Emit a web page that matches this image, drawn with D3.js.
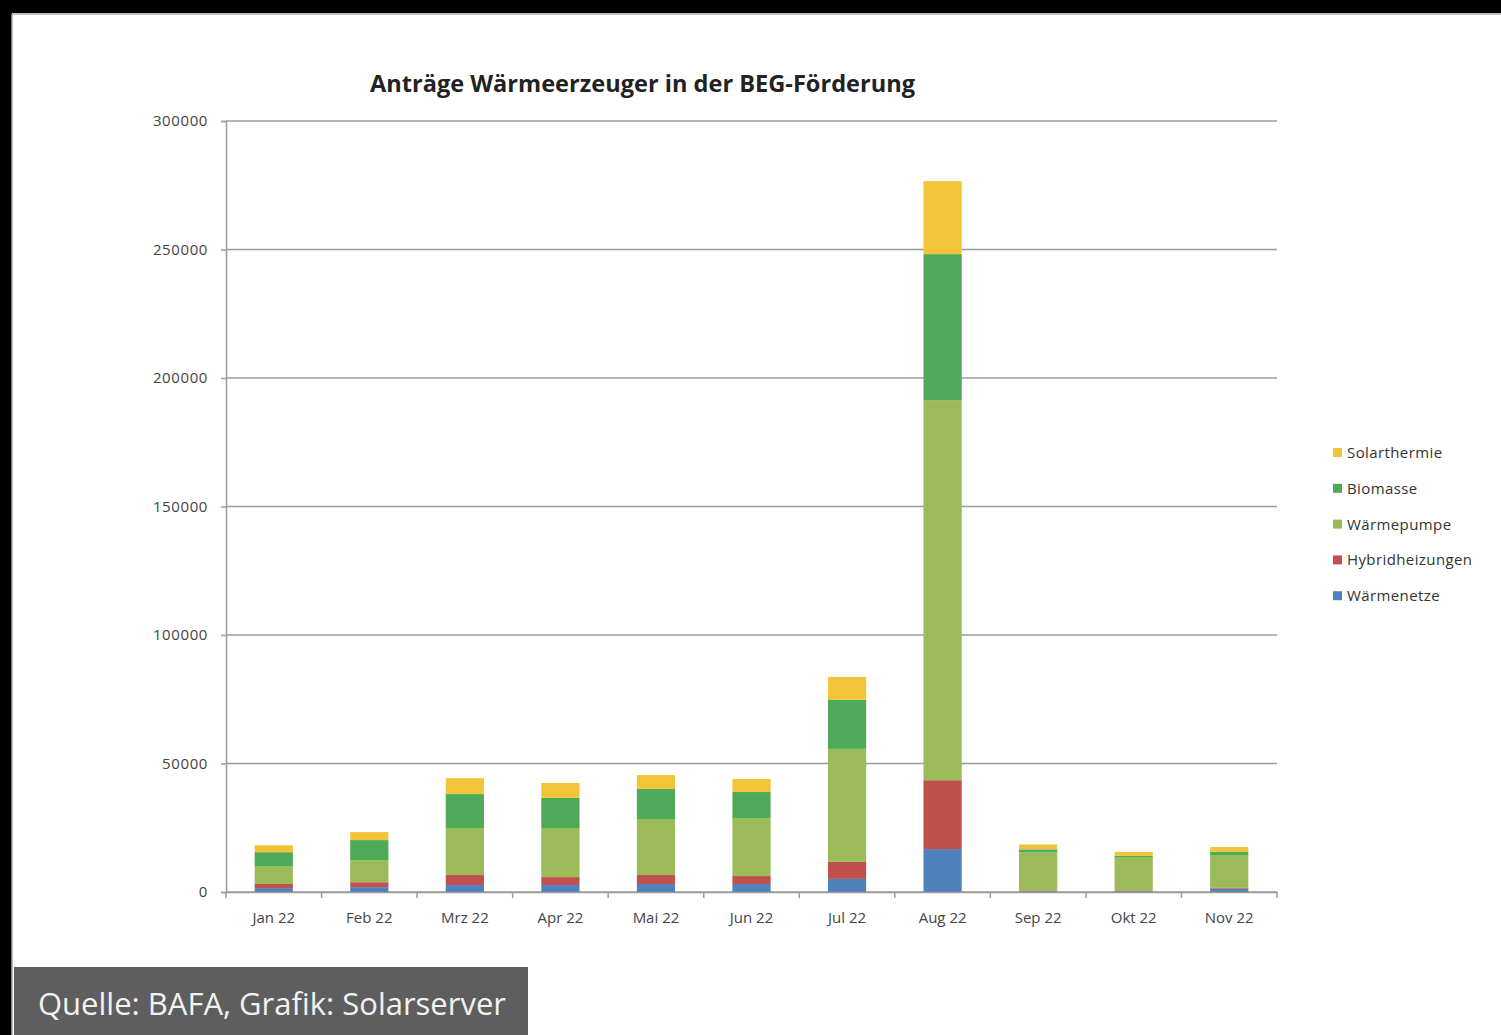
<!DOCTYPE html>
<html>
<head>
<meta charset="utf-8">
<script src="https://cdn.jsdelivr.net/npm/d3@7"></script>
<style>
  body { margin: 0; background: #000; }
  svg { display: block; }
</style>
</head>
<body>
<div id="chart"></div>
<script>
const months = ['Jan 22', 'Feb 22', 'Mrz 22', 'Apr 22', 'Mai 22', 'Jun 22', 'Jul 22', 'Aug 22', 'Sep 22', 'Okt 22', 'Nov 22']
const seriesNames = ['Wärmenetze', 'Hybridheizungen', 'Wärmepumpe', 'Biomasse', 'Solarthermie']
const legendLabels = ['Solarthermie', 'Biomasse', 'Wärmepumpe', 'Hybridheizungen', 'Wärmenetze']
const waermenetze = [1500, 1900, 2700, 2700, 3100, 3100, 5100, 16700, 300, 300, 1300]
const hybrid = [1600, 1900, 3900, 3100, 3500, 3100, 6600, 26800, 300, 300, 300]
const waermepumpe = [7000, 8600, 18300, 19100, 21800, 22600, 44000, 147900, 14800, 13000, 12800]
const biomasse = [5400, 7800, 13200, 11700, 11700, 10100, 19100, 56800, 1200, 500, 1200]
const solar = [2700, 3100, 6200, 5800, 5400, 5100, 8900, 28400, 1900, 1500, 1900]
const yTicks = [0, 50000, 100000, 150000, 200000, 250000, 300000]
const colors = {
  'Wärmenetze': '#4f81bd',
  'Hybridheizungen': '#c0504d',
  'Wärmepumpe': '#9bbb59',
  'Biomasse': '#4caa58',
  'Solarthermie': '#f2c43a'
}

const W = 1501, H = 1035
const dms = { left: 226, right: 1277, top: 121, bottom: 892 }

const table = months.map((m, i) => ({
  month: m,
  'Wärmenetze': waermenetze[i],
  'Hybridheizungen': hybrid[i],
  'Wärmepumpe': waermepumpe[i],
  'Biomasse': biomasse[i],
  'Solarthermie': solar[i]
}))

const svg = d3.select('#chart').append('svg')
    .attr('width', W)
    .attr('height', H)

// page frame
svg.append('rect').attr('x', 12).attr('y', 13).attr('width', W - 12).attr('height', H - 13).attr('fill', '#fff')
svg.append('line').attr('x1', 12).attr('x2', W).attr('y1', 14).attr('y2', 14).attr('stroke', '#aaa').attr('stroke-width', 1.5)
svg.append('line').attr('x1', 12).attr('x2', 12).attr('y1', 14).attr('y2', H).attr('stroke', '#aaa').attr('stroke-width', 1.5)

const x = d3.scaleBand()
    .domain(months)
    .range([dms.left, dms.right])
    .paddingInner(0.6)
    .paddingOuter(0.3)

const xTicks = d3.scaleBand().domain(months).range([dms.left, dms.right])

const y = d3.scaleLinear()
    .domain([0, 300000])
    .range([dms.bottom, dms.top])

// grid
svg.append('g')
  .selectAll('line')
  .data(yTicks)
  .join('line')
    .attr('x1', dms.left)
    .attr('x2', dms.right)
    .attr('y1', d => y(d))
    .attr('y2', d => y(d))
    .attr('stroke', '#9c9c9c')
    .attr('stroke-width', 1.5)

// y axis
const yAxis = svg.append('g')
    .attr('transform', `translate(${dms.left},0)`)
    .call(d3.axisLeft(y).tickValues(yTicks).tickSize(5).tickPadding(13).tickFormat(d3.format('d')))
yAxis.select('.domain').attr('stroke', '#9c9c9c').attr('stroke-width', 1.5)
yAxis.selectAll('.tick line').attr('stroke', '#9c9c9c').attr('stroke-width', 1.5)
yAxis.selectAll('text')
    .attr('font-family', 'Open Sans, sans-serif')
    .attr('font-size', 15)
    .attr('letter-spacing', 0.6)
    .attr('fill', '#444')

// stacked bars
const stack = d3.stack().keys(seriesNames)(table)
svg.append('g')
  .selectAll('g')
  .data(stack)
  .join('g')
    .attr('fill', d => colors[d.key])
  .selectAll('rect')
  .data(d => d)
  .join('rect')
    .attr('x', d => x(d.data.month))
    .attr('width', x.bandwidth())
    .attr('y', d => y(d[1]))
    .attr('height', d => y(d[0]) - y(d[1]))

// x axis
const xAxis = svg.append('g')
    .attr('transform', `translate(0,${dms.bottom})`)
    .call(d3.axisBottom(xTicks).tickSize(0).tickPadding(20))
xAxis.select('.domain').attr('stroke', '#9c9c9c').attr('stroke-width', 1.5)
xAxis.selectAll('text')
    .attr('font-family', 'Open Sans, sans-serif')
    .attr('font-size', 15)
    .attr('fill', '#444')
xAxis.selectAll('.sep')
  .data(months.concat(['end']))
  .join('line')
    .attr('class', 'sep')
    .attr('x1', (d, i) => dms.left + i * xTicks.step())
    .attr('x2', (d, i) => dms.left + i * xTicks.step())
    .attr('y1', 0)
    .attr('y2', 6)
    .attr('stroke', '#9c9c9c')
    .attr('stroke-width', 1.5)

// title
svg.append('text')
    .attr('x', 370)
    .attr('y', 92)
    .attr('textLength', 545)
    .attr('lengthAdjust', 'spacingAndGlyphs')
    .attr('font-family', 'Open Sans, sans-serif')
    .attr('font-weight', 'bold')
    .attr('font-size', 23)
    .attr('fill', '#222')
    .text('Anträge Wärmeerzeuger in der  BEG-Förderung')

// legend
const legend = svg.append('g')
  .selectAll('g')
  .data(legendLabels)
  .join('g')
    .attr('transform', (d, i) => `translate(1333,${453 + i * 35.8})`)
legend.append('rect')
    .attr('x', 0)
    .attr('y', -5)
    .attr('width', 9)
    .attr('height', 9)
    .attr('fill', d => colors[d])
legend.append('text')
    .attr('x', 14)
    .attr('y', 5)
    .attr('font-family', 'Open Sans, sans-serif')
    .attr('font-size', 15)
    .attr('letter-spacing', 0.4)
    .attr('fill', '#333')
    .text(d => d)

// source box
svg.append('rect')
    .attr('x', 14)
    .attr('y', 967)
    .attr('width', 514)
    .attr('height', 68)
    .attr('fill', '#5e5e5e')
svg.append('text')
    .attr('x', 38)
    .attr('y', 1015)
    .attr('textLength', 468)
    .attr('lengthAdjust', 'spacingAndGlyphs')
    .attr('font-family', 'Open Sans, sans-serif')
    .attr('font-size', 31)
    .attr('fill', '#f2f2f2')
    .text('Quelle: BAFA, Grafik: Solarserver')
</script>
</body>
</html>
